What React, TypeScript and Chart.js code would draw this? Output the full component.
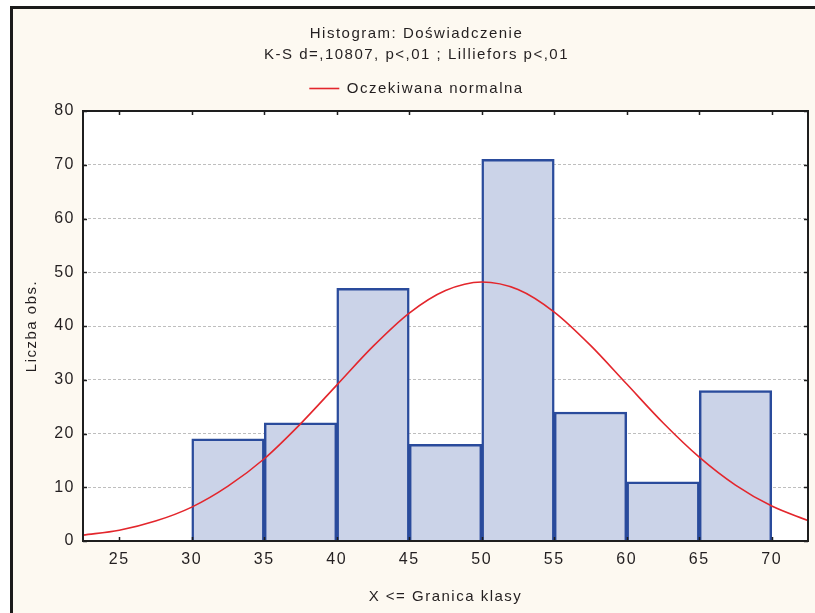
import React, { useEffect, useRef } from "react";
import { Chart, registerables } from "chart.js";

Chart.register(...registerables);

const titleText = "Histogram: Doświadczenie";
const subtitleText = "K-S d=,10807, p<,01 ; Lilliefors p<,01";
const legendLabel = "Oczekiwana normalna";
const xAxisTitle = "X <= Granica klasy";
const yAxisTitle = "Liczba obs.";

// histogram bins (lower class bounds) and counts
const binLower = [30, 35, 40, 45, 50, 55, 60, 65];
const binWidth = 5;
const counts = [19, 22, 47, 18, 71, 24, 11, 28];

// expected normal curve
const curveX = [22.5, 25, 27.5, 30, 32.5, 35, 37.5, 40, 42.5, 45, 47.5, 50, 52.5, 55, 57.5, 60, 62.5, 65, 67.5, 70, 72.5];
const curveY = [1.1, 2.0, 3.7, 6.3, 10.2, 15.3, 21.8, 29.0, 36.2, 42.4, 46.6, 48.2, 46.8, 42.6, 36.4, 29.2, 22.0, 15.6, 10.4, 6.5, 3.8];

const xTicks = [25, 30, 35, 40, 45, 50, 55, 60, 65, 70];
const yTicks = [0, 10, 20, 30, 40, 50, 60, 70, 80];
const xMin = 22.5;
const xMax = 72.5;
const yMin = 0;
const yMax = 80;

const FONT = "'Liberation Sans', Arial, sans-serif";
const TEXT = "#231F20";
const SPACING = "1.5px";

const framePlugin = {
  id: "statFrame",
  beforeUpdate(chart: any) {
    chart.ctx.letterSpacing = SPACING;
  },
  beforeDraw(chart: any) {
    const { ctx, chartArea: a } = chart;
    ctx.letterSpacing = SPACING;
    ctx.save();
    ctx.fillStyle = "#ffffff";
    ctx.fillRect(a.left, a.top, a.right - a.left, a.bottom - a.top);
    ctx.restore();
  },
  afterDraw(chart: any) {
    const { ctx, chartArea: a, scales } = chart;
    const x = scales.x;
    const y = scales.y;
    ctx.save();
    ctx.strokeStyle = "#1e1e1e";
    ctx.lineWidth = 1.5;
    ctx.beginPath();
    for (const v of xTicks) {
      const px = Math.round(x.getPixelForValue(v)) + 0.5;
      ctx.moveTo(px, a.bottom);
      ctx.lineTo(px, a.bottom - 4);
      ctx.moveTo(px, a.top);
      ctx.lineTo(px, a.top + 4);
    }
    for (const v of yTicks) {
      const py = Math.round(y.getPixelForValue(v)) + 0.5;
      ctx.moveTo(a.left, py);
      ctx.lineTo(a.left + 4, py);
      ctx.moveTo(a.right, py);
      ctx.lineTo(a.right - 4, py);
    }
    ctx.stroke();
    ctx.lineWidth = 2;
    ctx.strokeRect(a.left, a.top, a.right - a.left, a.bottom - a.top);
    ctx.restore();
  },
};

export default function App() {
  const ref = useRef<HTMLCanvasElement | null>(null);

  useEffect(() => {
    if (!ref.current) return;
    Chart.defaults.font.family = FONT;
    Chart.defaults.color = TEXT;

    const barData = binLower.map((lo, i) => ({ x: lo + binWidth / 2, y: counts[i] }));
    const lineData = curveX.map((xv, i) => ({ x: xv, y: curveY[i] }));

    const chart = new Chart(ref.current, {
      type: "bar",
      data: {
        datasets: [
          {
            type: "line",
            label: legendLabel,
            data: lineData,
            borderColor: "#E3262C",
            backgroundColor: "#E3262C",
            borderWidth: 1.6,
            pointRadius: 0,
            cubicInterpolationMode: "monotone",
            fill: false,
            xAxisID: "x",
            yAxisID: "y",
          } as any,
          {
            type: "bar",
            label: "Liczba",
            data: barData,
            backgroundColor: "#CBD3E8",
            borderColor: "#2A4B9C",
            borderWidth: 2.5,
            barPercentage: 1,
            categoryPercentage: 1,
            xAxisID: "x",
            yAxisID: "y",
          } as any,
        ],
      },
      options: {
        animation: false,
        responsive: false,
        events: [],
        layout: { padding: { top: 0, left: 5, right: 0, bottom: 0 } },
        plugins: {
          tooltip: { enabled: false },
          title: {
            display: true,
            text: titleText,
            color: TEXT,
            font: { size: 15, weight: "normal", family: FONT },
            padding: { top: 16, bottom: 3 },
          },
          subtitle: {
            display: true,
            text: subtitleText,
            color: TEXT,
            font: { size: 15, weight: "normal", family: FONT },
            padding: { top: 0, bottom: 7 },
          },
          legend: {
            display: true,
            position: "top",
            labels: {
              usePointStyle: true,
              pointStyle: "line",
              pointStyleWidth: 30,
              padding: 10,
              color: TEXT,
              font: { size: 15, family: FONT },
              filter: (item: any) => item.datasetIndex === 0,
            },
          },
        },
        scales: {
          x: {
            type: "linear",
            position: "bottom",
            min: xMin,
            max: xMax,
            offset: false,
            afterBuildTicks: (s: any) => {
              s.ticks = xTicks.map((v) => ({ value: v }));
            },
            afterFit: (s: any) => {
              s.height = 72;
            },
            ticks: {
              autoSkip: false,
              maxRotation: 0,
              padding: 9,
              color: TEXT,
              font: { size: 16, family: FONT },
            },
            grid: { display: false, drawTicks: false, offset: false },
            border: { display: false },
            title: {
              display: true,
              text: xAxisTitle,
              color: TEXT,
              font: { size: 15, family: FONT },
              padding: { top: 0, bottom: 7 },
            },
          },
          xTop: {
            type: "linear",
            position: "top",
            min: xMin,
            max: xMax,
            offset: false,
            afterFit: (s: any) => {
              s.height = 5;
            },
            ticks: { display: false },
            grid: { display: false, drawTicks: false },
            border: { display: false },
          },
          y: {
            type: "linear",
            position: "left",
            min: yMin,
            max: yMax,
            afterBuildTicks: (s: any) => {
              s.ticks = yTicks.map((v) => ({ value: v }));
            },
            afterFit: (s: any) => {
              s.width = 65;
            },
            ticks: {
              padding: 8,
              color: TEXT,
              font: { size: 16, family: FONT },
            },
            grid: { color: "#BEBEBE", lineWidth: 1, drawTicks: false, tickLength: 0 },
            border: { display: false, dash: [3, 2] },
            title: {
              display: true,
              text: yAxisTitle,
              color: TEXT,
              font: { size: 15, family: FONT },
              padding: { top: 5, bottom: 0 },
            },
          },
          yRight: {
            type: "linear",
            position: "right",
            min: yMin,
            max: yMax,
            afterFit: (s: any) => {
              s.width = 7;
            },
            ticks: { display: false },
            grid: { display: false, drawTicks: false },
            border: { display: false },
          },
        },
      } as any,
      plugins: [framePlugin],
    });

    return () => chart.destroy();
  }, []);

  return (
    <div
      style={{
        position: "absolute",
        left: 0,
        top: 0,
        width: 815,
        height: 613,
        background: "#ffffff",
        overflow: "hidden",
      }}
    >
      <div
        style={{
          position: "absolute",
          left: 10,
          top: 6,
          width: 805,
          height: 607,
          boxSizing: "border-box",
          borderTop: "3px solid #1b1b1b",
          borderLeft: "3px solid #1b1b1b",
          background: "#FDF9F1",
        }}
      >
        <canvas ref={ref} width={802} height={604} style={{ display: "block", width: 802, height: 604 }} />
      </div>
    </div>
  );
}
